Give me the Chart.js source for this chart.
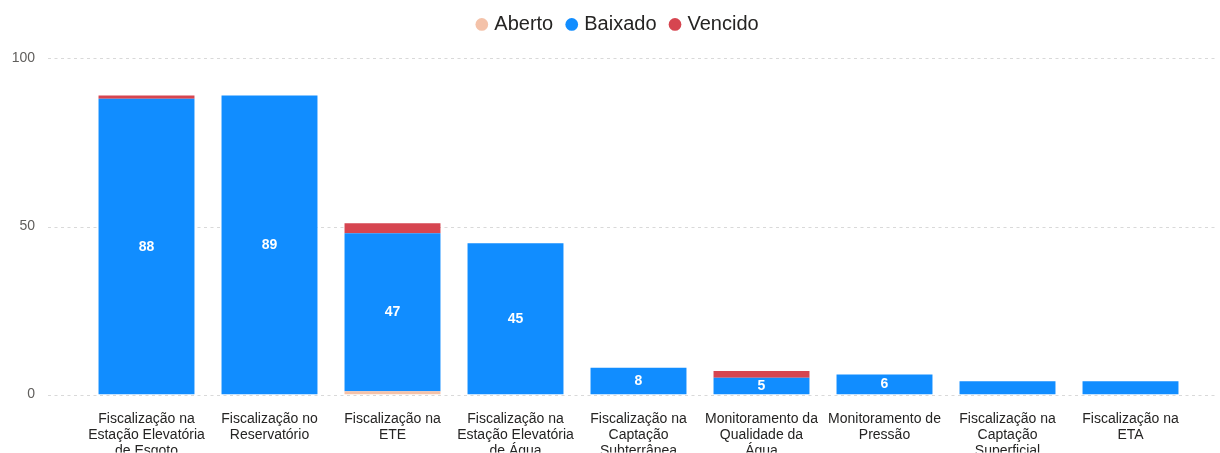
<!DOCTYPE html>
<html>
<head>
    <title>Fiscalizações por status</title>
    <script src="https://cdn.jsdelivr.net/npm/chart.js"></script>
    <style>
        html, body { margin: 0; padding: 0; background: #fff; }
        #wrap { width: 1220px; height: 453px; }
    </style>
</head>
<body>
    <div id="wrap"><canvas id="statusChart"></canvas></div>

    <script>
        const categories = [
            ['Fiscalização na', 'Estação Elevatória', 'de Esgoto'],
            ['Fiscalização no', 'Reservatório'],
            ['Fiscalização na', 'ETE'],
            ['Fiscalização na', 'Estação Elevatória', 'de Água'],
            ['Fiscalização na', 'Captação', 'Subterrânea'],
            ['Monitoramento da', 'Qualidade da', 'Água'],
            ['Monitoramento de', 'Pressão'],
            ['Fiscalização na', 'Captação', 'Superficial'],
            ['Fiscalização na', 'ETA']
        ];
        const aberto = [0, 0, 1, 0, 0, 0, 0, 0, 0];
        const baixado = [88, 89, 47, 45, 8, 5, 6, 4, 4];
        const vencido = [1, 0, 3, 0, 0, 2, 0, 0, 0];
        const yTicks = [0, 50, 100];

        const font = "'Liberation Sans', Arial, sans-serif";

        // dotted gridlines that run wider than the bar area
        const gridPlugin = {
            id: 'dottedGrid',
            beforeDatasetsDraw(chart) {
                const ctx = chart.ctx;
                const y = chart.scales.y;
                ctx.save();
                ctx.strokeStyle = '#d9d9d9';
                ctx.lineWidth = 1;
                ctx.setLineDash([3, 3.5]);
                yTicks.forEach(v => {
                    const py = Math.round(y.getPixelForValue(v)) + 0.5;
                    ctx.beginPath();
                    ctx.moveTo(48, py);
                    ctx.lineTo(1217, py);
                    ctx.stroke();
                });
                ctx.restore();
            }
        };

        // white value labels inside the Baixado segments
        const labelPlugin = {
            id: 'barLabels',
            afterDatasetsDraw(chart) {
                const ctx = chart.ctx;
                const meta = chart.getDatasetMeta(1);
                ctx.save();
                ctx.fillStyle = '#ffffff';
                ctx.font = 'bold 14px ' + font;
                ctx.textAlign = 'center';
                ctx.textBaseline = 'middle';
                meta.data.forEach((bar, i) => {
                    const h = Math.abs(bar.base - bar.y);
                    if (baixado[i] && h >= 16) {
                        ctx.fillText(baixado[i], bar.x, (bar.y + bar.base) / 2);
                    }
                });
                ctx.restore();
            }
        };

        // legend sits higher and a bit to the right of the default spot
        const legendShift = {
            id: 'legendShift',
            beforeInit(chart) {
                const legend = chart.legend;
                const fit = legend.fit;
                legend.fit = function () {
                    fit.call(this);
                    this.height -= 3;
                };
                const draw = legend.draw;
                legend.draw = function () {
                    this.ctx.save();
                    this.ctx.translate(23, -17);
                    draw.call(this);
                    this.ctx.restore();
                };
            }
        };

        new Chart(document.getElementById('statusChart'), {
            type: 'bar',
            data: {
                labels: categories,
                datasets: [
                    { label: 'Aberto', data: aberto, backgroundColor: '#f4c2a9' },
                    { label: 'Baixado', data: baixado, backgroundColor: '#118dff' },
                    { label: 'Vencido', data: vencido, backgroundColor: '#d64550' }
                ]
            },
            options: {
                responsive: true,
                maintainAspectRatio: false,
                animation: false,
                layout: { padding: { left: 0, right: 28, top: 0, bottom: 0 } },
                datasets: {
                    bar: { categoryPercentage: 1, barPercentage: 0.78, borderWidth: 0 }
                },
                plugins: {
                    tooltip: { enabled: false },
                    legend: {
                        position: 'top',
                        align: 'center',
                        labels: {
                            usePointStyle: true,
                            pointStyle: 'circle',
                            boxWidth: 5,
                            boxHeight: 9,
                            padding: 16,
                            color: '#252423',
                            font: { family: font, size: 20 }
                        }
                    }
                },
                scales: {
                    x: {
                        stacked: true,
                        grid: { display: false, drawTicks: false },
                        border: { display: false },
                        ticks: {
                            maxRotation: 0,
                            autoSkip: false,
                            padding: 16,
                            color: '#252423',
                            font: { family: font, size: 14, lineHeight: 1.15 }
                        },
                        afterFit(scale) { scale.height = 58; }
                    },
                    y: {
                        stacked: true,
                        min: 0,
                        max: 100,
                        grid: { display: false, drawTicks: false },
                        border: { display: false },
                        ticks: {
                            stepSize: 50,
                            padding: 50,
                            color: '#605e5c',
                            font: { family: font, size: 14 }
                        },
                        afterFit(scale) { scale.width = 85; }
                    }
                }
            },
            plugins: [gridPlugin, labelPlugin, legendShift]
        });
    </script>
</body>
</html>
